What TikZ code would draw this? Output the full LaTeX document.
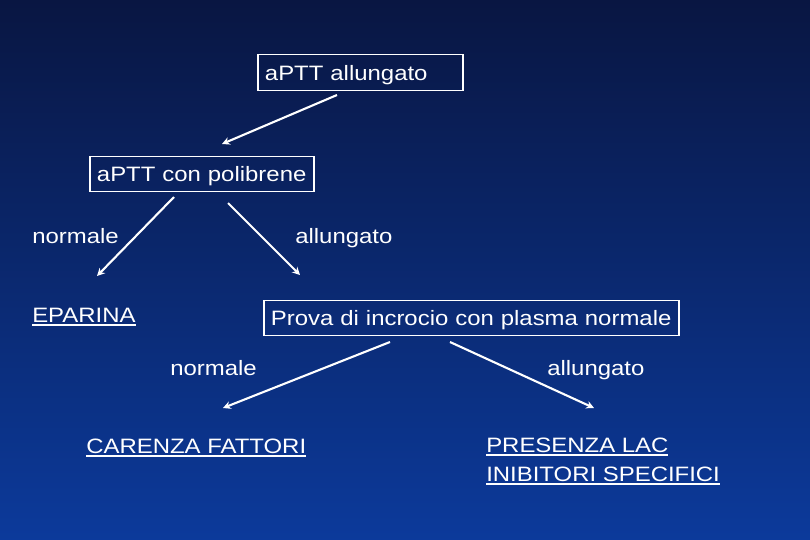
\documentclass[tikz,border=0pt]{standalone}
\usepackage{fontspec}
\setmainfont{Liberation Sans}[FakeStretch=1.15]
\usetikzlibrary{arrows.meta}
\newcommand{\sott}[1]{\leavevmode\vtop{\hbox{#1}\kern1.4pt\hrule height 1.2pt}}

\begin{document}
\begin{tikzpicture}[x=0.025cm,y=-0.025cm,
    every node/.style={text=white,font=\fontsize{14.8}{18}\selectfont},
    quadro/.style={draw=white,line width=0.8pt,inner xsep=0.175cm,inner ysep=0pt,
      align=left,minimum height=0.89cm,text depth=0pt},
    etichetta/.style={anchor=base west,inner sep=0pt},
    freccia/.style={draw=white,line width=1.5pt,-{Stealth[length=5.5pt,width=5.5pt]}}]
  \shade[top color={rgb,255:red,9;green,22;blue,66},
    middle color={rgb,255:red,8;green,46;blue,135},
    bottom color={rgb,255:red,12;green,58;blue,155}] (0,0) rectangle (810,540);
  % riquadri
  \node[quadro,text width=4.775cm] (aptt) at (360.5,72.5) {aPTT allungato};
  \node[quadro,text width=5.25cm] (poli) at (202,174) {aPTT con polibrene};
  \node[quadro,text width=10.025cm] (prova) at (471.5,318) {Prova di incrocio con plasma normale};
  % etichette
  \node[etichetta] (norm1) at (32,243) {normale};
  \node[etichetta] (allu1) at (295,243) {allungato};
  \node[etichetta] (epar) at (32,322) {\sott{EPARINA}};
  \node[etichetta] (norm2) at (170,375) {normale};
  \node[etichetta] (allu2) at (547,375) {allungato};
  \node[etichetta] (caren) at (86,453) {\sott{CARENZA FATTORI}};
  \node[etichetta] (lac) at (486,452) {\sott{PRESENZA LAC}};
  \node[etichetta] (inib) at (486,481) {\sott{INIBITORI SPECIFICI}};
  % frecce
  \coordinate (a1) at (337,95);  \coordinate (b1) at (222,144);
  \coordinate (a2) at (174,197); \coordinate (b2) at (97,276);
  \coordinate (a3) at (228,203); \coordinate (b3) at (300,275);
  \coordinate (a4) at (390,342); \coordinate (b4) at (223,408);
  \coordinate (a5) at (450,342); \coordinate (b5) at (594,408);
  \foreach \i in {1,...,5}
    \draw[freccia] (a\i) -- (b\i);
\end{tikzpicture}
\end{document}
